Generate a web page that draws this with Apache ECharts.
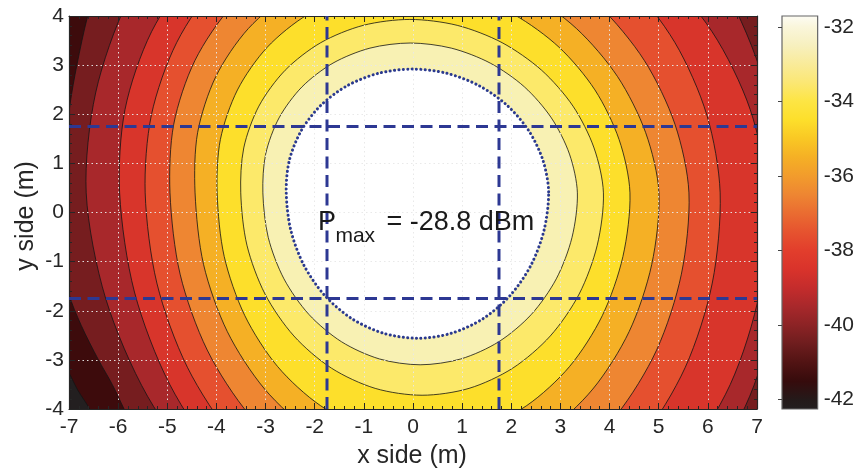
<!DOCTYPE html>
<html>
<head>
<meta charset="utf-8">
<script src="https://cdn.jsdelivr.net/npm/echarts@6/dist/echarts.min.js"></script>
<style>html,body{margin:0;padding:0;background:#fff}#c{width:857px;height:470px}</style>
</head>
<body>
<div id="c"></div>
<script>
// ---------- data ----------
const xRange = [-7, 7];
const yRange = [-4, 4];
const cbarRange = [-42.26, -31.705];
const cbarTicks = [-42, -40, -38, -36, -34, -32];
const levels = [-42, -41, -40, -39, -38, -37, -36, -35, -34, -33, -32];
const dashedX = [-1.75, 1.75];
const dashedY = [-1.75, 1.75];
const pmax = -28.8;

// contour outlines ([x, y] in metres); each bounds the region above its level
// (the first one bounds the small corner below -42 dBm)
const belowM42 = [[-7.8,-2.0],[-7.0,-3.27],[-6.82,-3.62],[-6.58,-4.0],[-6.3,-4.6],[-7.5,-5.0],[-8.2,-4.0]];
const aboveM41 = [[-6.2,5.4],[-6.45,4.5],[-6.62,4.0],[-6.84,3.0],[-6.98,2.2],[-7.1,1.2],[-7.15,0.3],[-7.1,-0.8],[-7.0,-1.65],[-6.75,-2.3],[-6.4,-3.0],[-6.12,-3.5],[-5.88,-4.0],[-5.62,-4.55],[-5.2,-5.3],[0,-6.5],[9,-6.5],[9,6.5],[0,6.5]];
const aboveM40 = [[7.5,0.4],[7.209,2.434],[6.462,4.33],[5.309,5.958],[3.827,7.207],[2.119,7.992],[0.3,8.26],[-1.543,7.992],[-3.248,7.207],[-4.697,5.958],[-5.792,4.33],[-6.458,2.434],[-6.65,0.4],[-6.256,-1.743],[-5.402,-3.74],[-4.146,-5.455],[-2.573,-6.77],[-0.79,-7.598],[1.08,-7.88],[2.872,-7.598],[4.502,-6.77],[5.86,-5.455],[6.852,-3.74],[7.411,-1.743]];
const aboveM39 = [[7.2,0.4],[6.861,2.098],[6.086,3.68],[4.926,5.039],[3.461,6.081],[1.791,6.736],[0.03,6.96],[-1.617,6.736],[-3.124,6.081],[-4.387,5.039],[-5.32,3.68],[-5.86,2.098],[-5.97,0.4],[-5.668,-1.619],[-4.95,-3.5],[-3.864,-5.115],[-2.483,-6.355],[-0.902,-7.134],[0.77,-7.4],[2.506,-7.134],[4.102,-6.355],[5.449,-5.115],[6.456,-3.5],[7.053,-1.619]];
const aboveM38 = [[6.25,0.4],[5.979,1.986],[5.326,3.465],[4.339,4.735],[3.083,5.709],[1.644,6.321],[0.12,6.53],[-1.384,6.321],[-2.767,5.709],[-3.935,4.735],[-4.806,3.465],[-5.323,1.986],[-5.45,0.4],[-5.212,-1.437],[-4.591,-3.15],[-3.631,-4.62],[-2.395,-5.749],[-0.969,-6.458],[0.55,-6.7],[2.059,-6.458],[3.455,-5.749],[4.643,-4.62],[5.541,-3.15],[6.09,-1.437]];
const aboveM37 = [[5.615,0.4],[5.331,1.795],[4.707,3.095],[3.785,4.211],[2.629,5.068],[1.315,5.606],[-0.065,5.79],[-1.417,5.606],[-2.651,5.068],[-3.681,4.211],[-4.437,3.095],[-4.869,1.795],[-4.945,0.4],[-4.739,-1.256],[-4.187,-2.8],[-3.327,-4.125],[-2.218,-5.142],[-0.934,-5.782],[0.435,-6.0],[1.798,-5.782],[3.062,-5.142],[4.139,-4.125],[4.957,-2.8],[5.461,-1.256]];
const aboveM36 = [[5.005,0.4],[4.735,1.624],[4.163,2.765],[3.326,3.745],[2.281,4.496],[1.101,4.969],[-0.135,5.13],[-1.343,4.969],[-2.439,4.496],[-3.35,3.745],[-4.013,2.765],[-4.383,1.624],[-4.435,0.4],[-4.261,-1.062],[-3.778,-2.425],[-3.018,-3.595],[-2.032,-4.493],[-0.889,-5.057],[0.335,-5.25],[1.555,-5.057],[2.688,-4.493],[3.658,-3.595],[4.398,-2.425],[4.857,-1.062]];
const aboveM35 = [[4.415,0.4],[4.194,1.484],[3.702,2.495],[2.973,3.363],[2.055,4.029],[1.012,4.447],[-0.085,4.59],[-1.162,4.447],[-2.145,4.029],[-2.967,3.363],[-3.572,2.495],[-3.92,1.484],[-3.985,0.4],[-3.842,-0.894],[-3.422,-2.1],[-2.755,-3.136],[-1.885,-3.93],[-0.872,-4.43],[0.215,-4.6],[1.302,-4.43],[2.315,-3.93],[3.185,-3.136],[3.852,-2.1],[4.272,-0.894]];
const aboveM34 = [[3.875,0.4],[3.684,1.314],[3.256,2.165],[2.617,2.896],[1.813,3.457],[0.899,3.81],[-0.065,3.93],[-1.011,3.81],[-1.877,3.457],[-2.601,2.896],[-3.136,2.165],[-3.444,1.314],[-3.505,0.4],[-3.379,-0.666],[-3.011,-1.66],[-2.424,-2.513],[-1.66,-3.168],[-0.77,-3.58],[0.185,-3.72],[1.14,-3.58],[2.03,-3.168],[2.794,-2.513],[3.381,-1.66],[3.749,-0.666]];
const aboveM33 = [[3.345,0.4],[3.184,1.189],[2.816,1.925],[2.267,2.557],[1.572,3.041],[0.78,3.346],[-0.055,3.45],[-0.876,3.346],[-1.628,3.041],[-2.259,2.557],[-2.726,1.925],[-2.998,1.189],[-3.055,0.4],[-2.946,-0.506],[-2.626,-1.35],[-2.118,-2.075],[-1.455,-2.631],[-0.683,-2.981],[0.145,-3.1],[0.973,-2.981],[1.745,-2.631],[2.408,-2.075],[2.916,-1.35],[3.236,-0.506]];
const aboveM32 = [[2.76,0.42],[2.643,1.067],[2.352,1.67],[1.907,2.188],[1.338,2.585],[0.684,2.835],[-0.01,2.92],[-0.698,2.835],[-1.332,2.585],[-1.869,2.188],[-2.272,1.67],[-2.515,1.067],[-2.58,0.42],[-2.489,-0.351],[-2.222,-1.07],[-1.798,-1.687],[-1.245,-2.161],[-0.601,-2.458],[0.09,-2.56],[0.781,-2.458],[1.425,-2.161],[1.978,-1.687],[2.402,-1.07],[2.669,-0.351]];

// colours of the filled bands (below -42, then above each level)
const bandBelowAll = '#3d0b0c';
const fillColors = ['#231f20','#761d1f','#a8282b','#d8352b','#e5502f','#ee8632','#f5b025','#fddf2b','#fce96a','#f8f1b3','#ffffff'];

// colour map of the colour bar
const cmapValues = [-42.26,-42,-41.5,-41,-40.5,-40,-39.5,-39,-38.5,-38,-37.5,-37,-36.5,-36,-35.5,-35,-34.5,-34,-33.5,-33,-32.5,-32,-31.705];
const cmapColors = ['#231f20','#241a1a','#360b0c','#511313','#6e1d1e','#8c2325','#a8282b','#c42c2c','#d9332b','#e23e2c','#e6532f','#ea6c31','#ee8632','#f29c2c','#f5b025','#f9c824','#fddf2b','#fde544','#fbe774','#f9eb9a','#f7f0bf','#faf6dc','#fdfcf5'];

// ---------- chart ----------
const FONT = '"Liberation Sans", Arial, Helvetica, sans-serif';
const AX = '#262626';
const fillLayers = [belowM42, aboveM41, aboveM40, aboveM39, aboveM38, aboveM37, aboveM36, aboveM35, aboveM34, aboveM33, aboveM32];

const chart = echarts.init(document.getElementById('c'), null, {renderer: 'canvas', width: 857, height: 470});

function mainX(pos, labels) {
  return {
    type: 'value', gridIndex: 0, min: xRange[0], max: xRange[1], interval: 1, position: pos, z: 2,
    axisLine: {show: true, onZero: false, lineStyle: {color: AX, width: 1.2}},
    axisTick: {show: true, inside: true, length: 6, lineStyle: {color: AX, width: 1}},
    minorTick: {show: true, splitNumber: 5, length: 3, lineStyle: {color: AX, width: 1}},
    axisLabel: {show: labels, fontSize: 21, color: AX, fontFamily: FONT, margin: 8},
    splitLine: {show: labels, lineStyle: {color: 'rgba(232,232,232,0.95)', type: [1.5, 3], width: 1}},
    minorSplitLine: {show: false}
  };
}
function mainY(pos, labels) {
  return {
    type: 'value', gridIndex: 0, min: yRange[0], max: yRange[1], interval: 1, position: pos, z: 2,
    axisLine: {show: true, onZero: false, lineStyle: {color: AX, width: 1.2}},
    axisTick: {show: true, inside: true, length: 6, lineStyle: {color: AX, width: 1}},
    minorTick: {show: true, splitNumber: 5, length: 3, lineStyle: {color: AX, width: 1}},
    axisLabel: {show: labels, fontSize: 21, color: AX, fontFamily: FONT, margin: 5},
    splitLine: {show: labels, lineStyle: {color: 'rgba(232,232,232,0.95)', type: [1.5, 3], width: 1}},
    minorSplitLine: {show: false}
  };
}

const series = [];
// filled contour bands
series.push({
  type: 'custom', coordinateSystem: 'cartesian2d', xAxisIndex: 0, yAxisIndex: 0,
  clip: true, z: 1, silent: true,
  data: fillLayers.map(() => [0, 0]),
  renderItem: function (params, api) {
    const i = params.dataIndex;
    const pts = fillLayers[i].map(p => api.coord(p));
    const last = i === fillLayers.length - 1;
    return {
      type: 'polygon',
      shape: {points: pts, smooth: 0.3},
      style: {fill: fillColors[i], stroke: last ? null : '#141414', lineWidth: 0.8}
    };
  }
});
// dashed blue lines
dashedX.forEach(x => series.push({
  type: 'line', xAxisIndex: 0, yAxisIndex: 0, z: 4, silent: true, symbol: 'none',
  data: [[x, yRange[0]], [x, yRange[1]]],
  lineStyle: {color: '#2d3893', width: 3, type: [12, 6.5]}
}));
dashedY.forEach(y => series.push({
  type: 'line', xAxisIndex: 0, yAxisIndex: 0, z: 4, silent: true, symbol: 'none',
  data: [[xRange[0], y], [xRange[1], y]],
  lineStyle: {color: '#2d3893', width: 3, type: [12, 6.5]}
}));
// dotted circle on the -32 dBm contour
series.push({
  type: 'custom', coordinateSystem: 'cartesian2d', xAxisIndex: 0, yAxisIndex: 0,
  clip: true, z: 5, silent: true,
  data: [[0, 0]],
  renderItem: function (params, api) {
    const pts = aboveM32.map(p => api.coord(p));
    return {
      type: 'polygon',
      shape: {points: pts, smooth: 0.3},
      style: {fill: null, stroke: '#2b3a8f', lineWidth: 3, lineDash: [0.1, 4.3], lineCap: 'round'}
    };
  }
});
// colour bar
series.push({
  type: 'custom', coordinateSystem: 'cartesian2d', xAxisIndex: 2, yAxisIndex: 2,
  z: 1, silent: true,
  data: [[0, cbarRange[0]]],
  renderItem: function (params, api) {
    const top = api.coord([0, cbarRange[1]]);
    const bot = api.coord([1, cbarRange[0]]);
    const span = cbarRange[1] - cbarRange[0];
    const stops = cmapValues.map((v, k) => ({offset: (cbarRange[1] - v) / span, color: cmapColors[k]}));
    return {
      type: 'rect',
      shape: {x: top[0], y: top[1], width: bot[0] - top[0], height: bot[1] - top[1]},
      style: {fill: new echarts.graphic.LinearGradient(0, 0, 0, 1, stops), stroke: '#666666', lineWidth: 1.2}
    };
  }
});

const option = {
  animation: false,
  backgroundColor: '#ffffff',
  grid: [
    {left: 69, top: 16, width: 688, height: 393, show: true, backgroundColor: bandBelowAll, borderWidth: 0},
    {left: 782, top: 16, width: 37, height: 393, show: false}
  ],
  xAxis: [
    mainX('bottom', true),
    mainX('top', false),
    {type: 'value', gridIndex: 1, min: 0, max: 1, show: false}
  ],
  yAxis: [
    mainY('left', true),
    mainY('right', false),
    {
      type: 'value', gridIndex: 1, min: cbarRange[0], max: cbarRange[1], position: 'right', z: 3,
      axisLine: {show: false},
      axisTick: {show: true, inside: true, length: 4, lineStyle: {color: '#444'}, customValues: cbarTicks},
      axisLabel: {show: true, fontSize: 21, color: AX, fontFamily: FONT, margin: 6, customValues: cbarTicks},
      splitLine: {show: false}
    }
  ],
  series: series,
  graphic: [
    {type: 'text', x: 412, y: 456, z: 10, style: {text: 'x side (m)', font: '25px ' + FONT, fill: AX, align: 'center', verticalAlign: 'middle', textAlign: 'center', textVerticalAlign: 'middle'}},
    {type: 'text', x: 26, y: 216, rotation: Math.PI / 2, z: 10, style: {text: 'y side (m)', font: '25px ' + FONT, fill: AX, align: 'center', verticalAlign: 'middle', textAlign: 'center', textVerticalAlign: 'middle'}},
    {type: 'text', x: 318, y: 222.3, z: 10, style: {text: 'P', font: '27px ' + FONT, fill: '#1a1a1a', align: 'left', verticalAlign: 'middle', textAlign: 'left', textVerticalAlign: 'middle'}},
    {type: 'text', x: 335.4, y: 236.4, z: 10, style: {text: 'max', font: '21px ' + FONT, fill: '#1a1a1a', align: 'left', verticalAlign: 'middle', textAlign: 'left', textVerticalAlign: 'middle'}},
    {type: 'text', x: 386.5, y: 222.3, z: 10, style: {text: '= ' + pmax.toFixed(1) + ' dBm', font: '27px ' + FONT, fill: '#1a1a1a', align: 'left', verticalAlign: 'middle', textAlign: 'left', textVerticalAlign: 'middle'}}
  ]
};
chart.setOption(option);
</script>
</body>
</html>
